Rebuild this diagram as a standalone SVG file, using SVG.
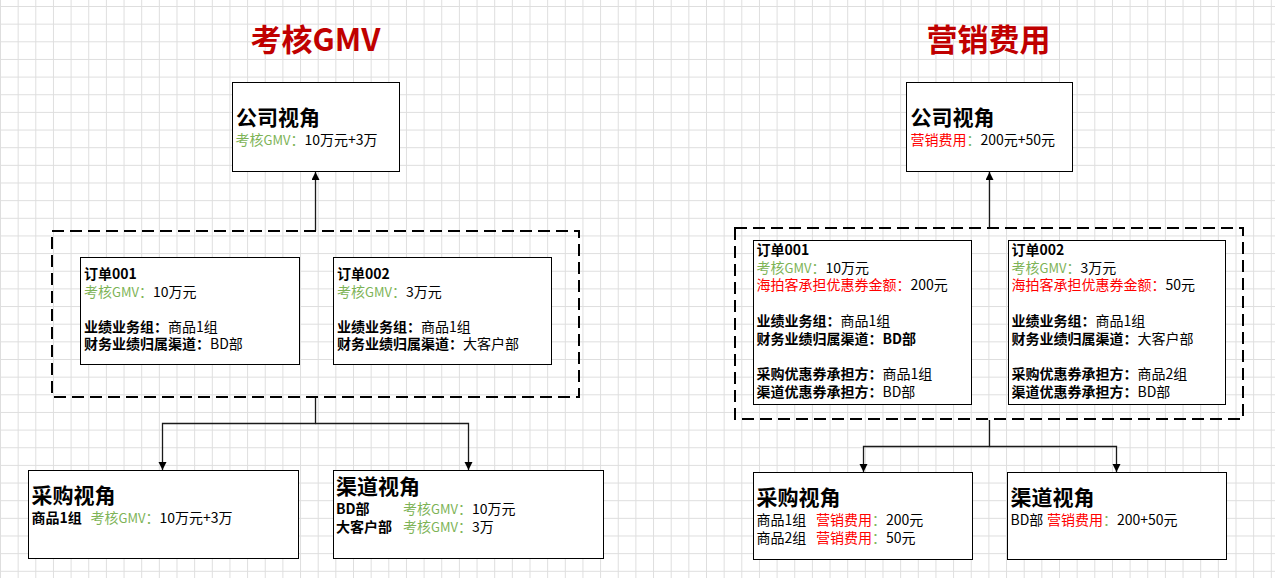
<svg xmlns="http://www.w3.org/2000/svg" width="1275" height="578" viewBox="0 0 1275 578">
<style>
text{font-family:"Noto Sans CJK SC","Liberation Sans",sans-serif;font-size:14px;fill:#000}
.title{font-size:31px;font-weight:bold;fill:#C00000}
.h{font-size:21px;font-weight:bold}
.b{font-weight:bold}
.g{fill:#7DB356}
.r{fill:#FF0000}
.gm{font-size:13px}
.box{fill:#fff;stroke:#000;stroke-width:1}
.dash{fill:none;stroke:#000;stroke-width:2;stroke-dasharray:12 6}
.conn{fill:none;stroke:#1a1a1a;stroke-width:1.3}
</style>
<defs>
<pattern id="grid" width="17.65" height="17.65" patternUnits="userSpaceOnUse" x="0" y="6">
<path d="M0.5 0V17.65M0 0.5H17.65" stroke="#dedede" stroke-width="1" fill="none"/>
</pattern>
<marker id="arr" markerUnits="userSpaceOnUse" markerWidth="9" markerHeight="9" refX="8" refY="4" orient="auto">
<path d="M0 0L8 4L0 8z" fill="#000"/>
</marker>
</defs>
<rect width="1275" height="578" fill="#fff"/>
<rect width="1275" height="578" fill="url(#grid)"/>

<text class="title" x="315.5" y="51" text-anchor="middle">考核GMV</text>
<text class="title" x="988.5" y="51" text-anchor="middle">营销费用</text>

<g id="connectors">
<path class="conn" d="M315.5 231V172" marker-end="url(#arr)"/>
<path class="conn" d="M315.5 398V423.5H162.5V470" marker-end="url(#arr)"/>
<path class="conn" d="M315.5 423.5H468.5V470" marker-end="url(#arr)"/>
<path class="conn" d="M989.5 228V172" marker-end="url(#arr)"/>
<path class="conn" d="M989.5 420V446.5H863.5V472" marker-end="url(#arr)"/>
<path class="conn" d="M989.5 446.5H1116.5V472" marker-end="url(#arr)"/>
</g>

<g id="left-company">
<rect class="box" x="232.5" y="82.5" width="167" height="89"/>
<text class="h" x="236" y="125">公司视角</text>
<text x="235.5" y="145"><tspan class="g">考核<tspan class="gm">GMV</tspan>：</tspan>10万元+3万</text>
</g>

<g id="left-orders">
<rect class="dash" x="52" y="231" width="527" height="166"/>
</g>

<g id="left-order1">
<rect class="box" x="80.5" y="257.5" width="219" height="107"/>
<text x="84" y="278.5" class="b">订单001</text>
<text x="84" y="296.5"><tspan class="g">考核<tspan class="gm">GMV</tspan>：</tspan>10万元</text>
<text x="84" y="331.5"><tspan class="b">业绩业务组：</tspan>商品1组</text>
<text x="84" y="349"><tspan class="b">财务业绩归属渠道：</tspan>BD部</text>
</g>

<g id="left-order2">
<rect class="box" x="333.5" y="257.5" width="218" height="107"/>
<text x="337" y="278.5" class="b">订单002</text>
<text x="337" y="296.5"><tspan class="g">考核<tspan class="gm">GMV</tspan>：</tspan>3万元</text>
<text x="337" y="331.5"><tspan class="b">业绩业务组：</tspan>商品1组</text>
<text x="337" y="349"><tspan class="b">财务业绩归属渠道：</tspan>大客户部</text>
</g>

<g id="left-purchase">
<rect class="box" x="28.5" y="470.5" width="270" height="88"/>
<text class="h" x="31.5" y="503">采购视角</text>
<text x="31.5" y="522.5"><tspan class="b">商品1组</tspan><tspan x="90.5" class="g">考核<tspan class="gm">GMV</tspan>：</tspan>10万元+3万</text>
</g>

<g id="left-channel">
<rect class="box" x="333.5" y="470.5" width="270" height="88"/>
<text class="h" x="336" y="494">渠道视角</text>
<text x="336" y="514"><tspan class="b">BD部</tspan><tspan x="403" class="g">考核<tspan class="gm">GMV</tspan>：</tspan>10万元</text>
<text x="336" y="531.5"><tspan class="b">大客户部</tspan><tspan x="403" class="g">考核<tspan class="gm">GMV</tspan>：</tspan>3万</text>
</g>

<g id="right-company">
<rect class="box" x="906.5" y="82.5" width="166" height="89"/>
<text class="h" x="910.5" y="125">公司视角</text>
<text x="910.5" y="145"><tspan class="r">营销费用</tspan><tspan class="g">：</tspan>200元+50元</text>
</g>

<g id="right-orders">
<rect class="dash" x="735" y="228" width="508" height="191"/>
</g>

<g id="right-order1">
<rect class="box" x="753.5" y="240.5" width="218" height="164"/>
<text x="756.5" y="255" class="b">订单001</text>
<text x="756.5" y="272.7"><tspan class="g">考核<tspan class="gm">GMV</tspan>：</tspan>10万元</text>
<text x="756.5" y="290.4"><tspan class="r">海拍客承担优惠券金额：</tspan>200元</text>
<text x="756.5" y="325.8"><tspan class="b">业绩业务组：</tspan>商品1组</text>
<text x="756.5" y="343.5" class="b">财务业绩归属渠道：BD部</text>
<text x="756.5" y="378.9"><tspan class="b">采购优惠券承担方：</tspan>商品1组</text>
<text x="756.5" y="396.6"><tspan class="b">渠道优惠券承担方：</tspan>BD部</text>
</g>

<g id="right-order2">
<rect class="box" x="1008.5" y="240.5" width="217" height="164"/>
<text x="1011.5" y="255" class="b">订单002</text>
<text x="1011.5" y="272.7"><tspan class="g">考核<tspan class="gm">GMV</tspan>：</tspan>3万元</text>
<text x="1011.5" y="290.4"><tspan class="r">海拍客承担优惠券金额：</tspan>50元</text>
<text x="1011.5" y="325.8"><tspan class="b">业绩业务组：</tspan>商品1组</text>
<text x="1011.5" y="343.5"><tspan class="b">财务业绩归属渠道：</tspan>大客户部</text>
<text x="1011.5" y="378.9"><tspan class="b">采购优惠券承担方：</tspan>商品2组</text>
<text x="1011.5" y="396.6"><tspan class="b">渠道优惠券承担方：</tspan>BD部</text>
</g>

<g id="right-purchase">
<rect class="box" x="753.5" y="472.5" width="219" height="87"/>
<text class="h" x="756.5" y="505">采购视角</text>
<text x="756.5" y="525">商品1组<tspan x="816" class="r">营销费用</tspan><tspan class="g">：</tspan>200元</text>
<text x="756.5" y="543.3">商品2组<tspan x="816" class="r">营销费用</tspan><tspan class="g">：</tspan>50元</text>
</g>

<g id="right-channel">
<rect class="box" x="1007.5" y="472.5" width="219" height="87"/>
<text class="h" x="1010.5" y="505">渠道视角</text>
<text x="1010.5" y="525">BD部<tspan x="1047" class="r">营销费用</tspan><tspan class="g">：</tspan>200+50元</text>
</g>
</svg>
